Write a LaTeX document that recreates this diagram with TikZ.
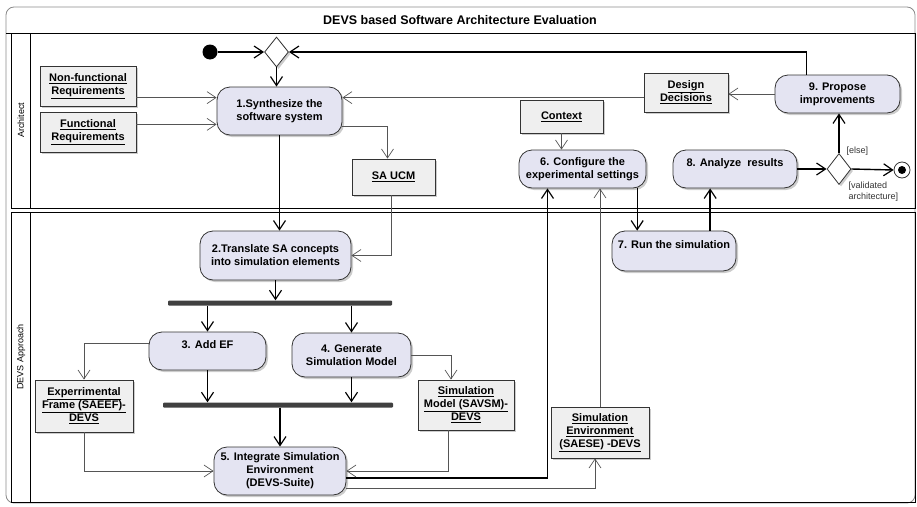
\documentclass[tikz,border=0pt]{standalone}
\usepackage{fontspec}
\setmainfont{Liberation Sans}
\usetikzlibrary{arrows.meta,shadows,shapes.geometric}
\definecolor{actfill}{HTML}{E4E4F2}
\definecolor{objfill}{HTML}{EFEFEF}
\definecolor{barfill}{HTML}{404040}
\definecolor{framegray}{HTML}{8A8A8A}
\definecolor{flowgray}{HTML}{555555}

\begin{document}
\begin{tikzpicture}[x=1pt, y=-1pt,
  act/.style={draw=black!80, fill=actfill, rounded corners=13pt, line width=0.8pt, align=center, inner sep=1pt,
    font=\bfseries\fontsize{11}{13}\selectfont, drop shadow={shadow xshift=2pt, shadow yshift=-2pt, fill=black!40}},
  objbox/.style={draw=black!80, fill=objfill, line width=0.8pt, align=center, inner sep=1pt,
    font=\bfseries\fontsize{11}{13}\selectfont, drop shadow={shadow xshift=2pt, shadow yshift=-2pt, fill=black!40}},
  branch/.style={diamond, draw=black!80, fill=white, line width=0.8pt, inner sep=0pt, minimum width=24pt, minimum height=30pt,
    drop shadow={shadow xshift=2pt, shadow yshift=-2pt, fill=black!40}},
  bar/.style={fill=barfill, minimum height=5pt, inner sep=0pt, rounded corners=1pt},
  ctrl/.style={-{Straight Barb[length=9pt,width=12pt,line width=1.2pt]}, line width=1.4pt, black},
  objflow/.style={-{Straight Barb[length=9pt,width=12pt,line width=0.7pt]}, line width=0.7pt, flowgray},
  lanelabel/.style={rotate=90, font=\fontsize{9}{10}\selectfont},
  guard/.style={font=\fontsize{9}{11}\selectfont, align=left, text=black!80}]

\useasboundingbox (0,0) rectangle (917,506);

% frame and swimlanes
\draw[framegray, line width=0.8pt, rounded corners=8pt] (6,7) rectangle (915,503);
\node[font=\bfseries\fontsize{12.5}{14}\selectfont] (title) at (460,20) {DEVS based Software Architecture Evaluation};
\draw[line width=0.8pt] (6,33) -- (915,33);
\draw[line width=0.7pt] (11,33) rectangle (915,208);
\draw[line width=0.7pt] (30,33) -- (30,208);
\draw[line width=0.7pt] (11,212) rectangle (915,502);
\draw[line width=0.7pt] (30,212) -- (30,502);
\node[lanelabel] (lanearch) at (21,120) {Architect};
\node[lanelabel] (lanedevs) at (21,357) {DEVS Approach};

% Architect lane
\node[circle, fill=black, minimum size=15pt, inner sep=0pt] (start) at (210,52) {};
\node[branch] (merge) at (276.5,52) {};
\node[objbox, minimum width=96pt, minimum height=40pt] (nfreq) at (88,86) {\underline{Non-functional}\\\underline{Requirements}};
\node[objbox, minimum width=96pt, minimum height=40pt] (freq) at (88,132) {\underline{Functional}\\\underline{Requirements}};
\node[act, minimum width=125pt, minimum height=48pt] (act1) at (279.5,111) {1.Synthesize the\\software system};
\node[objbox, minimum width=83pt, minimum height=36pt] (saucm) at (393.5,177) {\underline{SA UCM}};
\node[objbox, minimum width=84pt, minimum height=39pt] (dd) at (686,92.5) {\underline{Design}\\\underline{Decisions}};
\node[objbox, minimum width=83pt, minimum height=33pt] (ctx) at (561.5,116.5) {\underline{Context}};
\node[act, minimum width=127pt, minimum height=38pt] (act6) at (582.5,169) {6. Configure the\\experimental settings};
\node[act, minimum width=124pt, minimum height=38pt] (act8) at (735,169) {8. Analyze\ \ results\\\mbox{}};
\node[act, minimum width=125pt, minimum height=38pt] (act9) at (837.5,94) {9. Propose\\improvements};
\node[branch, minimum height=31pt] (dec) at (839,169) {};
\node[circle, draw=black!80, fill=white, line width=0.8pt, minimum size=16pt, inner sep=0pt] (endn) at (902,170) {};
\fill (endn.center) circle (4);
\node[guard, anchor=west] (gelse) at (843,151) {[else]};
\node[guard, anchor=west] (gvalid) at (845,192) {[validated\\architecture]};

% DEVS lane
\node[act, minimum width=151pt, minimum height=49pt] (act2) at (275.5,255.5) {2.Translate SA concepts\\into simulation elements};
\node[bar, minimum width=224pt] (bar1) at (280,303) {};
\node[act, minimum width=117pt, minimum height=38pt] (act3) at (207.5,351) {3. Add EF\\\mbox{}};
\node[act, minimum width=119pt, minimum height=44pt] (act4) at (351.5,355) {4. Generate\\Simulation Model};
\node[bar, minimum width=230pt] (bar2) at (278,405) {};
\node[objbox, minimum width=98pt, minimum height=52pt] (ef) at (84,406) {\underline{Experrimental}\\\underline{Frame (SAEEF)-}\\\underline{DEVS}};
\node[objbox, minimum width=96pt, minimum height=50pt] (sm) at (466,405) {\underline{Simulation}\\\underline{Model (SAVSM)-}\\\underline{DEVS}};
\node[act, minimum width=132pt, minimum height=48pt] (act5) at (280,471) {5. Integrate Simulation\\Environment\\(DEVS-Suite)};
\node[objbox, minimum width=98pt, minimum height=51pt] (se) at (600,432.5) {\underline{Simulation}\\\underline{Environment}\\\underline{(SAESE) -DEVS}};
\node[act, minimum width=124pt, minimum height=40pt] (act7) at (674,251) {7. Run the simulation\\\mbox{}};

% control flows
\draw[ctrl] (start) -- (merge.west);
\draw[ctrl] (merge.south) -- (merge.south |- act1.north);
\draw[ctrl] (act1.south) -- (act1.south |- act2.north);
\draw[ctrl] (act2.south) -- (act2.south |- bar1.north);
\draw[ctrl] (act3.north |- bar1.south) -- (act3.north);
\draw[ctrl] (act4.north |- bar1.south) -- (act4.north);
\draw[ctrl] (act3.south) -- (act3.south |- bar2.north);
\draw[ctrl] (act4.south) -- (act4.south |- bar2.north);
\draw[ctrl] (act5.north |- bar2.south) -- (act5.north);
\draw[ctrl] (act5.354) -| ([xshift=-35pt]act6.south);
\draw[ctrl] (act6.south -| act7.151) -- (act7.151);
\draw[ctrl] (act7.north -| act8.218) -- (act8.218);
\draw[ctrl] (act8.east) -- (dec.west);
\draw[ctrl] (dec.north) -- (dec.north |- act9.south);
\draw[ctrl] (dec.east) -- (endn.west);
\draw[ctrl] (act9.148) |- (merge.east);

% object flows
\draw[objflow] (nfreq.east |- act1.168) -- (act1.168);
\draw[objflow] (freq.east |- act1.192) -- (act1.192);
\draw[objflow] (dd.west |- act1.12) -- (act1.12);
\draw[objflow] (act9.west) -- (act9.west -| dd.east);
\draw[objflow] (act1.346) -| ([xshift=-6pt]saucm.north);
\draw[objflow] ([xshift=-2pt]saucm.south) |- (act2.east);
\draw[objflow] (act3.173) -| (ef.north);
\draw[objflow] (act4.east) -| ([xshift=-15pt]sm.north);
\draw[objflow] (ef.south) |- (act5.west);
\draw[objflow] ([xshift=-18pt]sm.south) |- (act5.east);
\draw[objflow] (act5.345) -| ([xshift=-5pt]se.south);
\draw[objflow] (se.north) -- (se.north |- act6.south);
\draw[objflow] (ctx.south) -- (ctx.south |- act6.north);
\end{tikzpicture}
\end{document}
